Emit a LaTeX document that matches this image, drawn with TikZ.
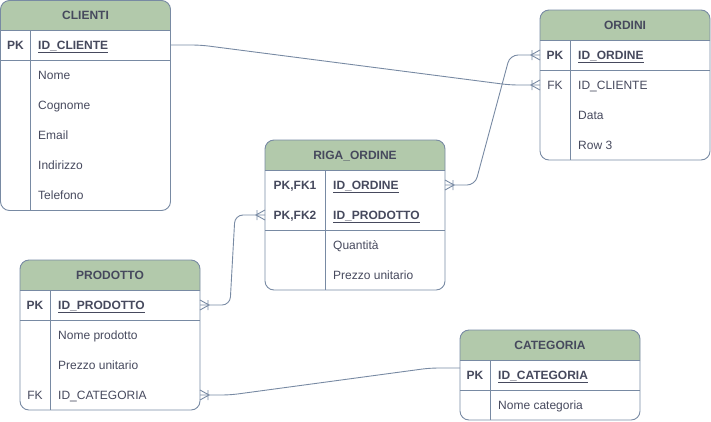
\documentclass[tikz,border=0pt]{standalone}
\usepackage{fontspec}
\setmainfont{Liberation Sans}
\usetikzlibrary{calc}
\definecolor{strk}{HTML}{788AA3}
\definecolor{hdr}{HTML}{B2C9AB}
\definecolor{txt}{HTML}{46495D}
\tikzset{
  tbl/.style={draw=strk, line width=0.9pt, rounded corners=9pt, anchor=north west, inner sep=0pt, outer sep=0pt},
  basetxt/.style={text=txt, inner sep=0pt, text height=8.6pt, text depth=0pt, font=\fontsize{12}{14}\selectfont},
  hdrtxt/.style={basetxt, font=\fontsize{12}{14}\selectfont\bfseries},
  keyn/.style={basetxt},
  keyb/.style={basetxt, font=\fontsize{12}{14}\selectfont\bfseries},
  fld/.style={basetxt, anchor=west},
  fldb/.style={fld, font=\fontsize{12}{14}\selectfont\bfseries},
  sep/.style={draw=strk, line width=0.9pt},
  rel/.style={draw=strk, line width=0.9pt, rounded corners=8pt},
  crow/.pic={\draw[strk, line width=0.9pt] (0pt,5pt) -- (-9pt,0pt) -- (0pt,-5pt) (-8pt,5pt) -- (-8pt,-5pt);}
}
% #1 name, #2 x, #3 y, #4 w, #5 h, #6 key col w, #7 title
\newcommand{\erframe}[7]{%
  \begin{scope}
    \clip (#2,#3) rectangle ++(#4,30);
    \fill[hdr, rounded corners=9pt] (#2,#3) rectangle ++(#4,60);
  \end{scope}
  \node[tbl, minimum width=#4pt, minimum height=#5pt] (#1) at (#2,#3) {};
  \node[hdrtxt] (#1T) at ($(#1.north)+(0,15)$) {#7};
  \draw[sep] (#2,#3+30) -- ++(#4,0);
  \draw[sep] (#2+#6,#3+30) -- (#2+#6,#3+#5);
}
\begin{document}
\begin{tikzpicture}[x=1pt,y=-1pt]
\useasboundingbox (0,0) rectangle (711,421);

% CLIENTI
\erframe{cli}{0.5}{0.5}{170}{210}{30}{CLIENTI}
\draw[sep] (0.5,60) -- (170.5,60);
\node[keyb] (cliK1) at (15.5,45) {PK};
\node[fldb] (cliF1) at (38,45) {\underline{ID\_CLIENTE}};
\node[fld] (cliF2) at (38,75) {Nome};
\node[fld] (cliF3) at (38,105) {Cognome};
\node[fld] (cliF4) at (38,135) {Email};
\node[fld] (cliF5) at (38,165) {Indirizzo};
\node[fld] (cliF6) at (38,195) {Telefono};

% ORDINI
\erframe{ord}{540}{10}{170}{150}{30}{ORDINI}
\draw[sep] (540,70) -- (710,70);
\node[keyb] (ordK1) at (555,55) {PK};
\node[fldb] (ordF1) at (578,55) {\underline{ID\_ORDINE}};
\node[keyn] (ordK2) at (555,85) {FK};
\node[fld] (ordF2) at (578,85) {ID\_CLIENTE};
\node[fld] (ordF3) at (578,115) {Data};
\node[fld] (ordF4) at (578,145) {Row 3};

% RIGA_ORDINE
\erframe{rig}{265}{140}{180}{150}{60}{RIGA\_ORDINE}
\draw[sep] (265,230) -- (445,230);
\node[keyb] (rigK1) at (295,185) {PK,FK1};
\node[fldb] (rigF1) at (333,185) {\underline{ID\_ORDINE}};
\node[keyb] (rigK2) at (295,215) {PK,FK2};
\node[fldb] (rigF2) at (333,215) {\underline{ID\_PRODOTTO}};
\node[fld] (rigF3) at (333,245) {Quantità};
\node[fld] (rigF4) at (333,275) {Prezzo unitario};

% PRODOTTO
\erframe{pro}{20}{260}{180}{150}{30}{PRODOTTO}
\draw[sep] (20,320) -- (200,320);
\node[keyb] (proK1) at (35,305) {PK};
\node[fldb] (proF1) at (58,305) {\underline{ID\_PRODOTTO}};
\node[fld] (proF2) at (58,335) {Nome prodotto};
\node[fld] (proF3) at (58,365) {Prezzo unitario};
\node[keyn] (proK4) at (35,395) {FK};
\node[fld] (proF4) at (58,395) {ID\_CATEGORIA};

% CATEGORIA
\erframe{cat}{460}{330}{180}{90}{30}{CATEGORIA}
\draw[sep] (460,390) -- (640,390);
\node[keyb] (catK1) at (475,375) {PK};
\node[fldb] (catF1) at (498,375) {\underline{ID\_CATEGORIA}};
\node[fld] (catF2) at (498,405) {Nome categoria};

% relationships
\coordinate (c1a) at (cliF1 -| cli.east);
\coordinate (c1b) at (ordF2 -| ord.west);
\draw[rel] (c1a) -- ++(30,0) -- ($(c1b)+(-30,0)$) -- (c1b);
\pic at (c1b) {crow};

\coordinate (c2a) at (rigF1 -| rig.east);
\coordinate (c2b) at (ordF1 -| ord.west);
\draw[rel] (c2a) -- ++(30,0) -- ($(c2b)+(-30,0)$) -- (c2b);
\pic[xscale=-1] at (c2a) {crow};
\pic at (c2b) {crow};

\coordinate (c3a) at (proF1 -| pro.east);
\coordinate (c3b) at (rigF2 -| rig.west);
\draw[rel] (c3a) -- ++(30,0) -- ($(c3b)+(-30,0)$) -- (c3b);
\pic[xscale=-1] at (c3a) {crow};
\pic at (c3b) {crow};

\coordinate (c4a) at (proF4 -| pro.east);
\coordinate (c4b) at ($(catF1 -| cat.west)+(0,-7)$);
\draw[rel] (c4a) -- ++(30,0) -- ($(c4b)+(-30,0)$) -- (c4b);
\pic[xscale=-1] at (c4a) {crow};
\end{tikzpicture}
\end{document}
